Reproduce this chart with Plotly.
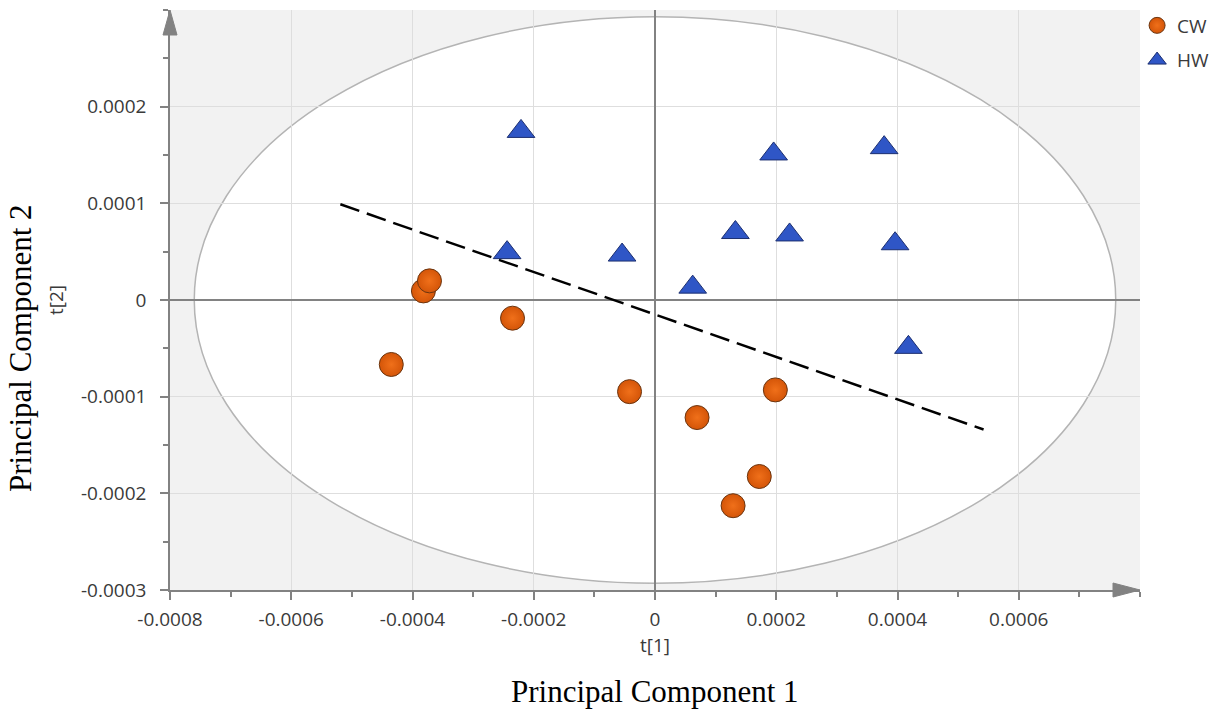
import plotly.graph_objects as go

# PCA score coordinates (t[1], t[2]) per sample group
cw_t1 = [-0.000382, -0.000372, -0.000235, -0.000435, -0.000042, 0.0001985, 0.0000694, 0.000172, 0.0001288]
cw_t2 = [0.0000094, 0.0000198, -0.0000188, -0.0000667, -0.0000948, -0.000093, -0.0001216, -0.0001826, -0.0002128]

hw_t1 = [-0.000221, -0.000244, -0.0000543, 0.0000622, 0.0001326, 0.0001957, 0.000222, 0.000378, 0.000396, 0.000418]
hw_t2 = [0.0001744, 0.000049, 0.0000465, 0.0000133, 0.0000698, 0.0001511, 0.0000673, 0.0001576, 0.0000582, -0.000049]

# separating line between the two groups
sep_t1 = [-0.000519, 0.000542]
sep_t2 = [0.000099, -0.000134]

# Hotelling T2 ellipse semi-axes
ellipse_rx = 0.00076
ellipse_ry = 0.000293

x_range = [-0.0008, 0.0008]
y_range = [-0.0003, 0.0003]
x_tickvals = [-0.0008, -0.0006, -0.0004, -0.0002, 0, 0.0002, 0.0004, 0.0006]
x_ticktext = ["-0.0008", "-0.0006", "-0.0004", "-0.0002", "0", "0.0002", "0.0004", "0.0006"]
y_tickvals = [-0.0003, -0.0002, -0.0001, 0, 0.0001, 0.0002]
y_ticktext = ["-0.0003", "-0.0002", "-0.0001", "0", "0.0001", "0.0002"]

AXIS_GREY = "#828282"
UI_FONT = "Open Sans"
SERIF = "Liberation Serif, Times New Roman, serif"

fig = go.Figure()

fig.add_trace(go.Scatter(
    x=sep_t1, y=sep_t2, mode="lines", showlegend=False, hoverinfo="skip",
    line=dict(color="black", width=2.5, dash="20px,8px"),
))

fig.add_trace(go.Scatter(
    x=cw_t1, y=cw_t2, mode="markers", name="CW", legendgroup="cw",
    marker=dict(symbol="circle", size=24, color="#d45508",
                gradient=dict(type="radial", color="#f0701a"),
                line=dict(color="#6b3510", width=1)),
))

fig.add_trace(go.Scatter(
    x=hw_t1, y=hw_t2, mode="markers", name="HW", legendgroup="hw",
    marker=dict(symbol="triangle-up", size=24, color="#2f56c6",
                line=dict(color="#1c2f70", width=1)),
))

# white interior of the confidence ellipse, drawn under the grid
fig.add_shape(type="circle", xref="x", yref="y", layer="below",
              x0=-ellipse_rx, x1=ellipse_rx, y0=-ellipse_ry, y1=ellipse_ry,
              fillcolor="white", line=dict(color="#b4b4b4", width=1.5))

# arrowheads at the ends of both axes
fig.add_shape(type="path", xref="paper", yref="paper", layer="above",
              xsizemode="pixel", ysizemode="pixel",
              xanchor=0, yanchor=1,
              path="M-7,-25 L7,-25 L0,0 Z",
              fillcolor=AXIS_GREY, line=dict(color=AXIS_GREY, width=1))
fig.add_shape(type="path", xref="paper", yref="paper", layer="above",
              xsizemode="pixel", ysizemode="pixel",
              xanchor=1, yanchor=0,
              path="M0,0 L-27,7 L-27,-7 Z",
              fillcolor=AXIS_GREY, line=dict(color=AXIS_GREY, width=1))

axis_common = dict(
    showline=True, linecolor=AXIS_GREY, linewidth=1.5, mirror=False,
    showgrid=True, gridcolor="#dedede", gridwidth=1,
    zeroline=True, zerolinecolor=AXIS_GREY, zerolinewidth=1.5,
    ticks="outside", ticklen=8, tickwidth=1.5, tickcolor=AXIS_GREY,
    tickfont=dict(family=UI_FONT, size=19, color="#3a3a3a"),
    title_font=dict(family=UI_FONT, size=19, color="#3a3a3a"),
)

fig.update_xaxes(
    range=x_range, tickmode="array", tickvals=x_tickvals, ticktext=x_ticktext,
    minor=dict(ticks="outside", ticklen=5, tickwidth=1.5, tickcolor=AXIS_GREY,
               dtick=0.0001, showgrid=False),
    ticklabelstandoff=3,
    title=dict(text="t[1]", standoff=0),
    **axis_common,
)
fig.update_yaxes(
    range=y_range, tickmode="array", tickvals=y_tickvals, ticktext=y_ticktext,
    minor=dict(ticks="outside", ticklen=5, tickwidth=1.5, tickcolor=AXIS_GREY,
               dtick=0.00005, showgrid=False),
    ticklabelstandoff=10,
    title=dict(text="t[2]", standoff=12),
    **axis_common,
)

fig.add_annotation(text="Principal Component 1", xref="paper", yref="paper",
                   x=0.5, y=0, yshift=-101, xanchor="center", yanchor="middle",
                   showarrow=False, font=dict(family=SERIF, size=31, color="black"))
fig.add_annotation(text="Principal Component 2", xref="paper", yref="paper",
                   x=0, y=0.5, xshift=-150, yshift=-48, xanchor="center", yanchor="middle",
                   textangle=-90, showarrow=False,
                   font=dict(family=SERIF, size=31, color="black"))

fig.update_layout(
    width=1217, height=710,
    margin=dict(l=170, r=77, t=10, b=120, autoexpand=False),
    paper_bgcolor="white", plot_bgcolor="#f2f2f2",
    showlegend=True,
    legend=dict(x=0.997, y=1.006, xanchor="left", yanchor="top",
                traceorder="grouped", tracegroupgap=7,
                bgcolor="rgba(0,0,0,0)",
                font=dict(family=UI_FONT, size=19, color="#3a3a3a")),
)

fig.write_html("out.html")
